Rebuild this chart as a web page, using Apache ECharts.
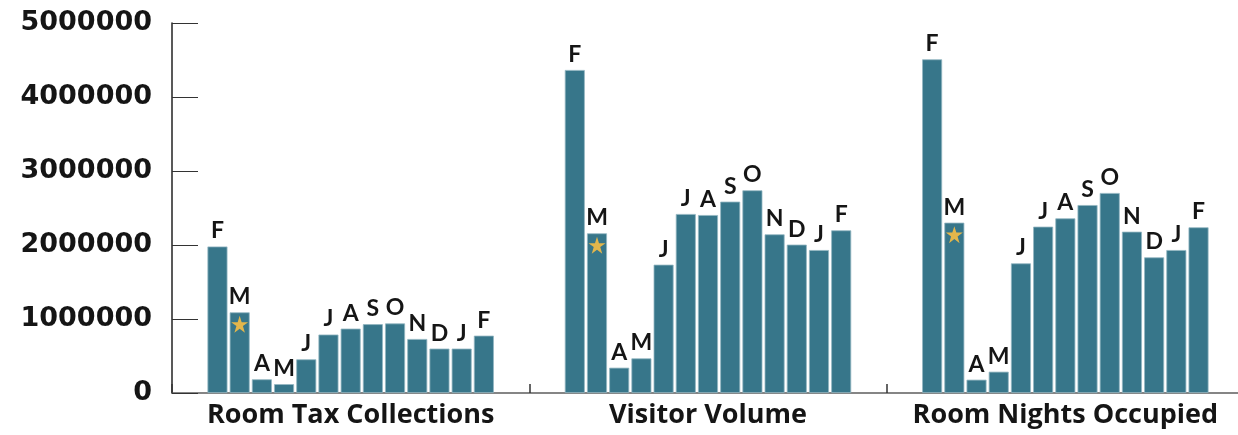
<!DOCTYPE html>
<html>
<head>
<meta charset="utf-8">
<script src="https://cdn.jsdelivr.net/npm/echarts@6/dist/echarts.min.js"></script>
<style>
  html, body { margin: 0; padding: 0; background: #ffffff; }
  #chart { width: 1238px; height: 435px; }
</style>
</head>
<body>
<div id="chart"></div>
<script>
// Metric groups along the x axis
const groups = ['Room Tax Collections', 'Visitor Volume', 'Room Nights Occupied'];
// Month initials, February through the following February
const months = ['F', 'M', 'A', 'M', 'J', 'J', 'A', 'S', 'O', 'N', 'D', 'J', 'F'];

// Monthly values for each metric
const roomTax = [1980000, 1090000, 185000, 120000, 455000, 790000, 870000, 930000, 940000, 730000, 600000, 600000, 775000];
const visitorVolume = [4365000, 2158000, 342000, 468000, 1734000, 2419000, 2405000, 2586000, 2739000, 2144000, 2005000, 1932000, 2198000];
const roomNights = [4509000, 2302000, 180000, 288000, 1752000, 2248000, 2360000, 2540000, 2703000, 2180000, 1833000, 1932000, 2239000];

// Y axis range
const yMin = 0;
const yMax = 5000000;
const yStep = 1000000;

// Month that carries the star marker
const starredMonth = 1;

const metrics = [roomTax, visitorVolume, roomNights];
const STAR = 'path://M50,0 L61.8,35.4 L100,35.4 L69.1,57.3 L80.9,95.1 L50,72.4 L19.1,95.1 L30.9,57.3 L0,35.4 L38.2,35.4 Z';

const barColor = '#37768a';

// One bar series per month; each series holds that month's value for every metric
const series = months.map((m, i) => {
  const s = {
    type: 'bar',
    name: 'm' + i,
    data: metrics.map(arr => arr[i]),
    barWidth: 20,
    barGap: '11%',
    itemStyle: { color: barColor, borderColor: '#93b6c1', borderWidth: 0.8 },
    label: {
      show: true,
      position: 'top',
      distance: 4,
      formatter: () => m,
      fontFamily: 'Lato',
      fontWeight: 'bold',
      fontSize: 23,
      color: '#151515'
    },
    animation: false
  };
  if (i === starredMonth) {
    s.markPoint = {
      symbol: STAR,
      symbolSize: 17,
      symbolOffset: [0, 12],
      itemStyle: { color: '#e3b64b' },
      label: { show: false },
      silent: true,
      animation: false,
      data: metrics.map((arr, g) => ({ coord: [g, arr[i]] }))
    };
  }
  return s;
});

const chart = echarts.init(document.getElementById('chart'), null, { renderer: 'canvas' });
chart.setOption({
  animation: false,
  backgroundColor: '#ffffff',
  grid: {
    left: 172,
    top: 23,
    width: 1072,
    height: 370,
    containLabel: false,
    outerBoundsMode: 'none'
  },
  xAxis: {
    type: 'category',
    data: groups,
    boundaryGap: true,
    axisLine: { show: true, lineStyle: { color: '#858585', width: 2 } },
    axisTick: { show: true, inside: true, interval: 0, length: 9, lineStyle: { color: '#333333', width: 1.5 } },
    axisLabel: {
      interval: 0,
      hideOverlap: false,
      margin: 9,
      fontFamily: 'Open Sans',
      fontWeight: 'bold',
      fontSize: 27,
      color: '#151515'
    },
    splitLine: { show: false }
  },
  yAxis: {
    type: 'value',
    min: yMin,
    max: yMax,
    interval: yStep,
    axisLine: { show: true, lineStyle: { color: '#222222', width: 1.5 } },
    axisTick: { show: true, inside: true, length: 26, lineStyle: { color: '#333333', width: 1 } },
    axisLabel: {
      margin: 20,
      formatter: v => String(v),
      fontFamily: 'DejaVu Sans',
      fontWeight: 'bold',
      fontSize: 27,
      color: '#151515'
    },
    splitLine: { show: false }
  },
  series: series
});
</script>
</body>
</html>
